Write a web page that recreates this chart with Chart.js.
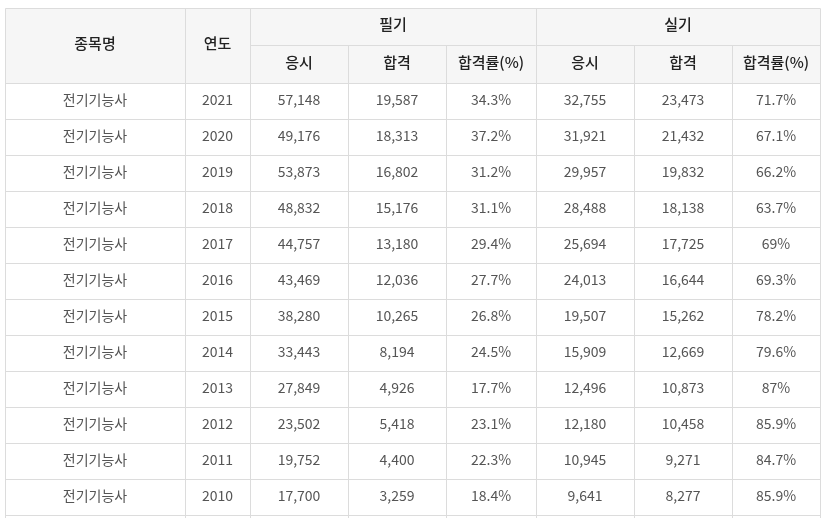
<!DOCTYPE html>
<html><head><meta charset="utf-8">
<script src="https://cdn.jsdelivr.net/npm/chart.js@4"></script>
<style>html,body{margin:0;padding:0;background:#fff}</style>
</head><body>
<canvas id="tabla" width="824" height="518"></canvas>
<script>
const itemName = '전기기능사';
const years = [2021, 2020, 2019, 2018, 2017, 2016, 2015, 2014, 2013, 2012, 2011, 2010];
const writtenApplied = ['57,148','49,176','53,873','48,832','44,757','43,469','38,280','33,443','27,849','23,502','19,752','17,700'];
const writtenPassed = ['19,587','18,313','16,802','15,176','13,180','12,036','10,265','8,194','4,926','5,418','4,400','3,259'];
const writtenRate = ['34.3%','37.2%','31.2%','31.1%','29.4%','27.7%','26.8%','24.5%','17.7%','23.1%','22.3%','18.4%'];
const practicalApplied = ['32,755','31,921','29,957','28,488','25,694','24,013','19,507','15,909','12,496','12,180','10,945','9,641'];
const practicalPassed = ['23,473','21,432','19,832','18,138','17,725','16,644','15,262','12,669','10,873','10,458','9,271','8,277'];
const practicalRate = ['71.7%','67.1%','66.2%','63.7%','69%','69.3%','78.2%','79.6%','87%','85.9%','84.7%','85.9%'];
const groupHeaders = ['필기', '실기'];
const subHeaders = ['응시', '합격', '합격률(%)'];

// layout (scale units = pixels)
const colEdges = [5, 185, 250, 348, 446, 536, 634, 732, 820];
const top0 = 8, headMid = 45, headEnd = 83, rowH = 36;

const tablePlugin = {
  id: 'tabla',
  afterDraw(chart) {
    const { ctx } = chart;
    const X = v => chart.scales.x.getPixelForValue(v);
    const Y = v => chart.scales.y.getPixelForValue(v);
    const line = (x1, y1, x2, y2) => {
      ctx.beginPath(); ctx.moveTo(Math.round(X(x1)) + 0.5, Math.round(Y(y1)) + 0.5);
      ctx.lineTo(Math.round(X(x2)) + 0.5, Math.round(Y(y2)) + 0.5); ctx.stroke();
    };
    const text = (s, x1, x2, y1, y2, dy) => ctx.fillText(s, (X(x1) + X(x2)) / 2, (Y(y1) + Y(y2)) / 2 + dy);
    const bottom = headEnd + rowH * years.length;
    const L = colEdges[0], R = colEdges[colEdges.length - 1];

    ctx.save();
    ctx.fillStyle = '#f6f6f6';
    ctx.fillRect(X(L), Y(top0), X(R) - X(L), Y(headEnd) - Y(top0));

    ctx.strokeStyle = '#dcdcdc'; ctx.lineWidth = 1;
    line(L, top0, R, top0);
    line(colEdges[2], headMid, R, headMid);
    for (let i = 0; i <= years.length; i++) line(L, headEnd + i * rowH, R, headEnd + i * rowH);
    colEdges.forEach((c, i) => {
      const full = [0, 1, 2, 5, 8].includes(i);
      line(c, full ? top0 : headMid, c, bottom + 4);
    });

    ctx.textAlign = 'center'; ctx.textBaseline = 'middle';
    ctx.font = '500 15px "Noto Sans CJK KR", "Noto Sans", sans-serif';
    ctx.fillStyle = '#222';
    text('종목명', colEdges[0], colEdges[1], top0, headEnd, -2);
    text('연도', colEdges[1], colEdges[2], top0, headEnd, -2);
    text(groupHeaders[0], colEdges[2], colEdges[5], top0, headMid, -2);
    text(groupHeaders[1], colEdges[5], colEdges[8], top0, headMid, -2);
    for (let g = 0; g < 2; g++) subHeaders.forEach((h, j) => {
      const c = 2 + g * 3 + j;
      text(h, colEdges[c], colEdges[c + 1], headMid, headEnd, -2);
    });

    ctx.font = '14px "Noto Sans CJK KR", "Noto Sans", sans-serif';
    ctx.fillStyle = '#555';
    const cols = [years.map(() => itemName), years, writtenApplied, writtenPassed, writtenRate,
      practicalApplied, practicalPassed, practicalRate];
    years.forEach((_, r) => {
      const y1 = headEnd + r * rowH;
      cols.forEach((col, c) => text(String(col[r]), colEdges[c], colEdges[c + 1], y1, y1 + rowH, -1));
    });
    ctx.restore();
  }
};

new Chart(document.getElementById('tabla'), {
  type: 'scatter',
  data: { datasets: [{ data: [] }] },
  options: {
    responsive: false, animation: false,
    layout: { padding: 0 },
    plugins: { legend: { display: false }, tooltip: { enabled: false } },
    scales: {
      x: { type: 'linear', min: 0, max: 824, display: false },
      y: { type: 'linear', min: 0, max: 518, reverse: true, display: false }
    }
  },
  plugins: [tablePlugin]
});
</script>
</body></html>
